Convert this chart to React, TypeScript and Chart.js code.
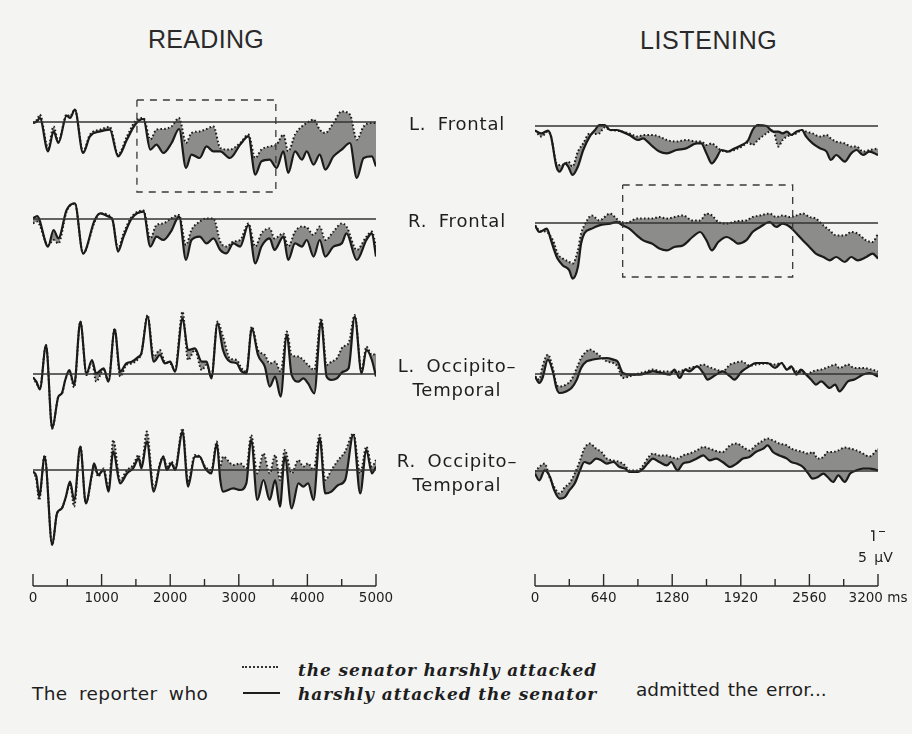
import React, { useEffect, useRef } from "react";
import { Chart, registerables } from "chart.js";
Chart.register(...registerables);

// ---------------- DATA (µV, negative plotted up) ----------------
// READING (ms 0..5000)
const readLFrontalMs = [0,60,100,220,300,370,490,540,610,730,830,980,1120,1240,1370,1490,1610,1710,1800,1900,2020,2130,2230,2310,2430,2530,2630,2730,2870,3020,3140,3240,3330,3450,3550,3650,3720,3820,3920,3990,4090,4180,4260,4380,4500,4620,4720,4820,4940,5000];
const readLFrontalSolid = [0.5,-0.3,-2,14.7,4.7,10.5,-3.2,-2,-6.2,15.5,7.2,4.7,3.8,17.2,8.8,1.3,-1.5,13.8,11.3,15.5,10.5,3.5,23,16.3,18,12.2,14.7,14.7,18,11.3,7.2,26.3,19.7,18.8,23,14.7,25.5,14.7,18.8,14.7,21.3,16.3,23.8,17.2,13.8,10.5,28,18,17.2,22.2];
const readLFrontalDotted = [0.5,-1.2,-3.7,13,2.2,9.7,-3.7,-2.8,-6.2,14.7,6.3,3.8,2.5,16.3,7.2,-0.3,-2,8.8,3.8,3.5,2.2,-2,10.5,5.5,4.7,3.5,2.2,13,13.8,10.5,6.3,18,13.8,12.2,11.3,6.3,14.7,6.3,2.2,0.5,-1.2,3.8,5.5,0.5,-5.3,-3.7,8.8,2.2,0.5,0.5];

const readRFrontalMs = [0,60,220,300,370,490,610,730,900,980,1100,1160,1240,1320,1440,1610,1710,1800,1900,2010,2130,2230,2310,2430,2530,2630,2730,2820,2920,3020,3140,3240,3330,3450,3520,3650,3720,3820,3920,3990,4090,4180,4260,4380,4500,4570,4720,4860,4940,5000];
const readRFrontalSolid = [-0.3,-1.5,13.8,5.5,9.7,-4.5,-7.8,17.2,0.5,-2.8,-1.2,0.5,16.3,8.8,-0.3,-3.7,13.8,8.8,10.5,6.3,-1.2,20.5,10.5,8.8,12.2,9.7,15.5,17.2,12.2,13.8,3,22.2,13.8,9.7,15.5,8.8,20.5,12.2,13.8,10.5,18.8,10.5,18.8,13.8,12.2,7.2,20.5,10.5,7.2,18.8];
const readRFrontalDotted = [2.2,1.3,13,10.5,12.2,-3.7,-7.8,17.2,1.3,-2.8,-2,0.5,14.7,7.2,-1.2,-4.2,9.7,3,2.2,-0.3,-2,13,5.5,1.3,-0.3,-0.3,11.3,13.8,11.3,10.5,2.2,13.8,7.2,4.7,9.7,7.2,13.8,6.3,3.8,4.2,8,3.8,10.5,6.3,2.2,3.8,15.5,8.8,6.3,13.8];

const readLOccMs = [0,50,100,190,280,370,420,470,530,600,690,780,860,920,1030,1100,1190,1270,1360,1440,1540,1580,1670,1760,1850,1920,2000,2070,2180,2260,2360,2460,2530,2600,2690,2770,2870,2970,3040,3110,3190,3280,3380,3450,3530,3610,3700,3770,3870,3940,4010,4100,4200,4280,4350,4430,4520,4600,4690,4790,4860,4940,5000];
const readLOccSolid = [1.7,3.8,7.7,-14.5,27.2,11.3,9.7,3,-2,5.5,-26.2,-0.3,-7,-0.3,-2.8,3.8,-22.3,-1.2,-5.3,-6.2,-8.7,-10.3,-28.7,-6.2,-9.5,-5.3,-6.2,-1.2,-27.8,-12,-12.8,-6.2,-6.2,2.2,-25.3,-12,-6.2,-5.3,-1.2,-0.3,-22.8,-9.5,-3.7,6.3,1.3,11.3,-19.5,0.5,3.8,2.2,4.7,9.7,-26.2,1.3,3,2.2,-1.2,-2.8,-28.7,-0.3,-12,-7,1.3];
const readLOccDotted = [1.7,4.7,7.2,-14.5,27.2,11.3,10,3,-1.2,6.7,-26.2,0.5,-6.2,3.8,-2,3.8,-22.8,1.3,-4.5,-5.3,-7.8,-10.3,-29.5,-8.7,-12,-6.2,-5.3,-2,-31.2,-7,-12,-2,-4.5,1.3,-26.2,-18.7,-7.8,-7,-2.8,-1.2,-23.7,-12,-9.5,-5.3,-6.2,-1.2,-21.2,-9.5,-8.7,-7,-4.5,-2,-27.8,-4.5,-6.2,-7.8,-13.7,-15.3,-29.5,-1.2,-13.7,-9.5,-10.3];

const readROccMs = [0,50,90,170,280,350,420,480,540,600,690,770,860,890,950,1030,1100,1170,1270,1370,1460,1540,1580,1660,1760,1850,1900,1950,2020,2070,2180,2260,2360,2430,2510,2600,2680,2730,2770,2920,3020,3110,3180,3270,3360,3450,3530,3600,3670,3770,3870,3940,4010,4090,4180,4260,4350,4450,4550,4670,4770,4860,4940,5000];
const readROccSolid = [0.8,3.3,13.3,-6.7,37.5,21.7,19.2,13.3,5.8,15,-11.7,16.7,1.7,-3.3,2.5,0,10.8,-9.2,6.7,1.7,-0.8,-5.8,-0.8,-14.2,10.8,-2.5,-6.7,0,-3.3,0,-19.2,8.3,-6.7,-6.7,-0.8,1.7,-13.3,5,10.8,9.2,10,6.7,-15,15,5,15,5,18.3,-6.7,19.2,6.7,8.3,6.7,15,-15.8,11.7,10.8,7.5,5,-17.5,11.7,-10,1.7,-1.7];
const readROccDotted = [0.8,5,15,-7.5,37.5,21.7,19.2,13.3,6.7,18.3,-11.7,16.7,2.5,-2.5,3.3,-0.8,9.2,-15,5,0,-2.5,-7.5,-1.7,-19.2,9.2,-3.3,-6.7,-1.7,-4.2,-0.8,-20.8,5.8,-7.5,-6.7,-1.7,0,-14.2,-1.7,-6.7,-2.5,-3.3,-0.8,-17.5,1.7,-8.3,1.7,-7.5,5,-10,1.7,-5,-1.7,-3.3,0,-17.5,5,0,-5,-9.2,-18.3,1.7,-11.7,-1.7,-5];

// LISTENING (ms 0..3200)
const lisLFrontalMs = [0,60,120,150,200,230,280,310,350,400,450,510,560,600,650,700,760,810,880,960,1010,1050,1100,1160,1230,1320,1410,1510,1550,1600,1650,1690,1740,1800,1860,1930,1990,2030,2080,2160,2220,2270,2310,2350,2390,2440,2490,2530,2590,2660,2720,2760,2810,2890,2950,3000,3060,3120,3200];
const lisLFrontalSolid = [2.3,3.7,2.3,5.3,20.3,22.8,18.7,20.3,24.5,20.3,12,5.3,2,-0.5,-0.5,2,2,2.8,4.5,7,6.2,7.8,10.3,12.8,13.7,12,11.2,8.7,8.7,13.7,18.7,16.2,12,12.8,11.2,9.5,7,2,-0.5,0,2.8,2.8,3.7,2.8,4.5,2.8,2,5.3,8.7,11.2,12.8,17,14.5,17.8,13.7,12,14.5,12.8,14.5];
const lisLFrontalDotted = [2.3,5.3,2.8,5.3,18.7,19.5,19,17.8,20.3,12.8,8.7,3.7,4,3.7,0.7,2,2.3,2.8,3.7,5.3,4.5,4.5,4.5,5.3,7,7.8,7,7.8,7.8,9.5,8.7,10.3,12.3,12.8,12,10.3,8.3,9.5,7,3.7,2,10.3,7,5.3,4.5,3.7,2,2.8,3.7,5.3,4.5,6.2,7.8,8.7,10.3,10.3,12.8,12,11.2];

const lisRFrontalMs = [0,40,110,150,180,210,260,320,350,400,430,460,530,600,700,760,820,880,950,1010,1090,1160,1230,1300,1380,1470,1540,1600,1650,1710,1790,1850,1890,1970,2030,2100,2190,2250,2310,2380,2440,2500,2560,2620,2690,2750,2810,2890,2950,3010,3090,3150,3200];
const lisRFrontalSolid = [1.2,4.5,2.8,8.7,13.7,17.8,21.2,23.7,27.8,22,10.3,5.3,2.8,1.2,0.3,-0.5,1.2,2.8,6.2,8.7,10.3,12.8,13.7,12,11.2,7,4.5,8.7,13.7,9.5,7,8.7,10.3,8.7,4.5,2,-0.5,2,0.3,2,5.3,8.7,12,15.3,17,18.7,17,19.5,17,18.7,17,15.3,17.8];
const lisRFrontalDotted = [1.2,3.7,4.5,7,10.3,15.3,17.8,19.5,20.3,13.7,5.3,1.2,-3.8,-1.3,-4.7,-2.2,0.3,-0.5,-2.2,-2.2,-2.2,-3,-2.2,-3,-3.8,-1.3,-1.3,-4.7,-3.8,-0.5,0.3,-0.5,-1,-1.3,-3,-3.8,-4.7,-3,-3.8,-3,-3.8,-4.7,-3,-2.2,1.2,3.7,6.2,6.2,4.5,5.3,8.7,9.5,5.3];

const lisLOccMs = [0,40,70,120,170,200,230,290,340,390,430,480,510,570,670,730,770,820,880,980,1040,1100,1180,1260,1300,1350,1400,1440,1510,1570,1610,1690,1750,1820,1860,1930,2000,2060,2170,2240,2300,2350,2390,2440,2480,2530,2590,2620,2670,2750,2800,2840,2920,2980,3060,3120,3200];
const lisLOccSolid = [1.2,4.5,2,-7.2,-0.5,7,9.5,8.7,7,2.8,-3,-6.3,-6.8,-7.5,-8,-7.2,-6.3,-0.5,0.3,0.3,-0.5,-1.3,-0.5,0.3,-2.2,2,-2.2,-1.3,-3.8,-0.5,2.8,0.3,-1.3,1.2,2.8,-1.3,-3.8,-5.5,-5.5,-3,-5.5,-2.2,-3.8,0.3,-2.2,0.3,3.7,5.3,3.7,7,5.3,8.7,3.7,2.8,0.3,-0.5,1.2];
const lisLOccDotted = [1.2,2.8,-3.8,-9.7,-2.2,5.3,6.2,5.3,2.8,-3,-8,-11.3,-12.2,-10.5,-6.3,-5.5,-3.8,2,1.2,-0.5,-1.3,-2.2,-1.3,-1.3,-0.8,-1.3,-2.2,-3,-3.8,-4.7,-3.8,-2.2,-1.3,-4.7,-5.5,-6.3,-4.2,-4.7,-5.2,-4.7,-5.5,-2.2,-3,-1.3,-0.8,0.3,-1.3,-1.8,-2.2,-3.8,-4.7,-3,-4.7,-3,-3,-2.5,-1.3];

const lisROccMs = [0,40,90,140,180,230,280,320,370,420,460,510,570,620,670,730,790,840,880,960,1010,1050,1100,1160,1230,1270,1330,1380,1440,1510,1570,1630,1690,1750,1820,1880,1940,2000,2060,2130,2170,2220,2280,2350,2390,2440,2500,2550,2590,2640,2690,2730,2780,2830,2890,2940,3000,3060,3120,3200];
const lisROccSolid = [1.3,4.7,-0.3,3,9.7,13.8,13,9.7,6.3,-0.3,-4.5,-3.7,-6.2,-5.3,-3.7,-4.5,-2,-1.2,0.5,0.5,-1.2,-3.7,-6.2,-4.5,-2.8,-4.5,-0.3,-3.7,-4.5,-6.2,-7.8,-5.3,-6.2,-4.5,-2,-3.7,-6.2,-7,-9.5,-11.2,-12.8,-9.5,-7.8,-6.2,-4.5,-3.7,-2,1.3,3.8,3,1.3,3,5.5,2.2,5.5,1.3,-0.3,-1.2,-1.2,-0.3];
const lisROccDotted = [0.5,-2,-3.7,3.8,8,11.3,8,6.3,1.3,-5.3,-11.2,-13.7,-11.2,-9.5,-6.2,-5.3,-4.5,-2.8,-0.3,-0.3,-2.8,-6.2,-8.7,-7.8,-7.8,-7,-6.2,-7.8,-8.7,-10.3,-12,-11.2,-10,-9.5,-12.8,-13.7,-12,-10.3,-12.8,-15.3,-16.2,-15.3,-13.7,-12.8,-11.2,-10.3,-9.5,-8.7,-9.5,-6.2,-7,-9.5,-9.5,-10.3,-11.7,-11.2,-10.3,-8.7,-7.3,-11.2];

// dashed analysis windows [ms], [µV]
const readBoxMs = [1515, 3540];
const readBoxUv = [-11, 35];
const lisBoxMs = [818, 2404];
const lisBoxUv = [-19, 27];

// 5 µV calibration bar
const scaleBarMs = [3135, 3160];
const scaleBarUv = [30, 35];

// axis ticks
const readingTicks = [0, 1000, 2000, 3000, 4000, 5000];
const listeningTicks = [0, 640, 1280, 1920, 2560, 3200];

// ---------------- STYLE ----------------
const BG = "#f4f4f2";
const INK = "#1b1b1b";
const FILL = "rgba(70,70,70,0.6)";
const PANEL_W = 343;
const UV_HALF = 40; // ±40 µV shown in each panel canvas
const PX_PER_UV = 2;
const PANEL_H = UV_HALF * 2 * PX_PER_UV;

type PanelProps = {
  left: number;
  baseline: number;
  maxMs: number;
  ms: number[];
  solid: number[];
  dotted: number[];
  box?: { ms: number[]; uv: number[] };
  scaleBar?: boolean;
};

function WavePanel(p: PanelProps) {
  const ref = useRef<HTMLCanvasElement>(null);
  useEffect(() => {
    const canvas = ref.current;
    if (!canvas) return;
    const datasets: any[] = [
      {
        label: "dotted",
        data: p.ms.map((t, i) => ({ x: t, y: p.dotted[i] })),
        borderColor: INK,
        borderWidth: 2,
        borderDash: [1.6, 2.2],
        pointRadius: 0,
        fill: false,
        cubicInterpolationMode: "monotone",
        order: 1,
      },
      {
        label: "solid",
        data: p.ms.map((t, i) => ({ x: t, y: p.solid[i] })),
        borderColor: INK,
        borderWidth: 2.2,
        pointRadius: 0,
        fill: "-1",
        backgroundColor: FILL,
        cubicInterpolationMode: "monotone",
        order: 2,
      },
      {
        label: "baseline",
        data: [
          { x: 0, y: 0 },
          { x: p.maxMs, y: 0 },
        ],
        borderColor: "#333",
        borderWidth: 1.3,
        pointRadius: 0,
        fill: false,
        order: 0,
      },
    ];
    if (p.box) {
      const [t0, t1] = p.box.ms;
      const [u0, u1] = p.box.uv;
      datasets.push({
        label: "window",
        data: [
          { x: t0, y: u0 },
          { x: t1, y: u0 },
          { x: t1, y: u1 },
          { x: t0, y: u1 },
          { x: t0, y: u0 },
        ],
        borderColor: "#3a3a3a",
        borderWidth: 1.3,
        borderDash: [7, 6],
        pointRadius: 0,
        fill: false,
        order: 0,
      });
    }
    if (p.scaleBar) {
      datasets.push({
        label: "5 µV",
        data: [
          { x: scaleBarMs[0], y: scaleBarUv[0] },
          { x: scaleBarMs[1], y: scaleBarUv[0] },
          { x: scaleBarMs[1], y: scaleBarUv[1] },
        ],
        borderColor: "#222",
        borderWidth: 1.4,
        pointRadius: 0,
        fill: false,
        order: 0,
      });
    }
    const chart = new Chart(canvas, {
      type: "line",
      data: { datasets },
      options: {
        responsive: false,
        animation: false,
        events: [],
        layout: { padding: 0 },
        plugins: { legend: { display: false }, tooltip: { enabled: false } },
        scales: {
          x: { type: "linear", min: 0, max: p.maxMs, display: false },
          y: { type: "linear", min: -UV_HALF, max: UV_HALF, reverse: true, display: false },
        },
      },
    } as any);
    return () => chart.destroy();
  }, []);
  return (
    <canvas
      ref={ref}
      width={PANEL_W}
      height={PANEL_H}
      style={{ position: "absolute", left: p.left, top: p.baseline - PANEL_H / 2, width: PANEL_W, height: PANEL_H }}
    />
  );
}

// Draws the time axis (line, upward ticks, labels) from the chart's own x scale.
const timeAxisPlugin = {
  id: "timeAxis",
  afterDraw(chart: any, _args: any, opts: any) {
    const sc = chart.scales.x;
    const ctx = chart.ctx;
    const y0 = chart.chartArea.bottom;
    let values: number[] = (sc.ticks || []).map((t: any) => t.value);
    if (!values.length) {
      values = [];
      opts.majors.forEach((m: number, i: number) => {
        values.push(m);
        if (i < opts.majors.length - 1) values.push((m + opts.majors[i + 1]) / 2);
      });
    }
    ctx.save();
    ctx.strokeStyle = "#2a2a2a";
    ctx.lineWidth = 1.6;
    ctx.beginPath();
    ctx.moveTo(sc.getPixelForValue(sc.min), y0);
    ctx.lineTo(sc.getPixelForValue(sc.max), y0);
    ctx.stroke();
    ctx.lineWidth = 1.4;
    ctx.fillStyle = "#1e1e1e";
    ctx.font = '13.5px "DejaVu Sans"';
    ctx.textAlign = "center";
    ctx.textBaseline = "middle";
    values.forEach((v) => {
      const x = sc.getPixelForValue(v);
      const major = opts.majors.includes(v);
      ctx.beginPath();
      ctx.moveTo(x, y0);
      ctx.lineTo(x, y0 - (major ? 12 : 7));
      ctx.stroke();
      if (major) {
        const label = v === sc.max && opts.unit ? `${v} ${opts.unit}` : String(v);
        ctx.fillText(label, x, y0 + 12);
      }
    });
    ctx.restore();
  },
};

const AX_PAD = 42;
const AX_H = 46;
const AX_BELOW = 24;

function TimeAxis({ left, top, maxMs, majors, unit }: { left: number; top: number; maxMs: number; majors: number[]; unit?: string }) {
  const ref = useRef<HTMLCanvasElement>(null);
  useEffect(() => {
    const canvas = ref.current;
    if (!canvas) return;
    const step = (majors[1] - majors[0]) / 2;
    const chart = new Chart(canvas, {
      type: "line",
      data: { datasets: [] },
      options: {
        responsive: false,
        animation: false,
        events: [],
        layout: { padding: { left: AX_PAD, right: AX_PAD, top: 0, bottom: AX_BELOW } },
        plugins: { legend: { display: false }, tooltip: { enabled: false }, timeAxis: { majors, unit } },
        scales: {
          x: { type: "linear", min: 0, max: maxMs, display: false, ticks: { stepSize: step } },
          y: { display: false, min: 0, max: 1 },
        },
      },
      plugins: [timeAxisPlugin],
    } as any);
    return () => chart.destroy();
  }, []);
  return (
    <canvas
      ref={ref}
      width={PANEL_W + 2 * AX_PAD}
      height={AX_H}
      style={{ position: "absolute", left: left - AX_PAD, top, width: PANEL_W + 2 * AX_PAD, height: AX_H }}
    />
  );
}

const READ_LEFT = 33;
const LIS_LEFT = 535;
const AXIS_TOP = 564; // axis line lands at AXIS_TOP + AX_H - AX_BELOW = 586

const labelStyle: React.CSSProperties = {
  position: "absolute",
  left: 377,
  width: 160,
  textAlign: "center",
  fontFamily: "DejaVu Sans",
  fontSize: 18,
  lineHeight: "24px",
  letterSpacing: 0.8,
  wordSpacing: 5,
  color: "#1e1e1e",
  whiteSpace: "nowrap",
};

export default function App() {
  const panels: PanelProps[] = [
    { left: READ_LEFT, baseline: 122, maxMs: 5000, ms: readLFrontalMs, solid: readLFrontalSolid, dotted: readLFrontalDotted, box: { ms: readBoxMs, uv: readBoxUv } },
    { left: READ_LEFT, baseline: 219, maxMs: 5000, ms: readRFrontalMs, solid: readRFrontalSolid, dotted: readRFrontalDotted },
    { left: READ_LEFT, baseline: 374, maxMs: 5000, ms: readLOccMs, solid: readLOccSolid, dotted: readLOccDotted },
    { left: READ_LEFT, baseline: 470, maxMs: 5000, ms: readROccMs, solid: readROccSolid, dotted: readROccDotted },
    { left: LIS_LEFT, baseline: 126, maxMs: 3200, ms: lisLFrontalMs, solid: lisLFrontalSolid, dotted: lisLFrontalDotted },
    { left: LIS_LEFT, baseline: 223, maxMs: 3200, ms: lisRFrontalMs, solid: lisRFrontalSolid, dotted: lisRFrontalDotted, box: { ms: lisBoxMs, uv: lisBoxUv } },
    { left: LIS_LEFT, baseline: 374, maxMs: 3200, ms: lisLOccMs, solid: lisLOccSolid, dotted: lisLOccDotted },
    { left: LIS_LEFT, baseline: 471, maxMs: 3200, ms: lisROccMs, solid: lisROccSolid, dotted: lisROccDotted, scaleBar: true },
  ];
  return (
    <div style={{ position: "fixed", left: 0, top: 0, width: 912, height: 734, overflow: "hidden", background: BG }}>
      <div style={{ position: "absolute", left: 148, top: 27, fontFamily: "Liberation Sans", fontSize: 25, lineHeight: "25px", color: "#2a2a2a", letterSpacing: 0.3 }}>READING</div>
      <div style={{ position: "absolute", left: 640, top: 28, fontFamily: "Liberation Sans", fontSize: 25, lineHeight: "25px", color: "#2a2a2a", letterSpacing: 0.6 }}>LISTENING</div>

      {panels.map((p, i) => (
        <WavePanel key={i} {...p} />
      ))}

      <div style={{ ...labelStyle, top: 112 }}>L. Frontal</div>
      <div style={{ ...labelStyle, top: 209 }}>R. Frontal</div>
      <div style={{ ...labelStyle, top: 354 }}>L. Occipito–<br />Temporal</div>
      <div style={{ ...labelStyle, top: 449 }}>R. Occipito–<br />Temporal</div>

      <TimeAxis left={READ_LEFT} top={AXIS_TOP} maxMs={5000} majors={readingTicks} />
      <TimeAxis left={LIS_LEFT} top={AXIS_TOP} maxMs={3200} majors={listeningTicks} unit="ms" />

      <div style={{ position: "absolute", left: 879, top: 531, width: 6, height: 0, borderTop: "1.5px solid #222" }} />
      <div style={{ position: "absolute", left: 858, top: 550, fontFamily: "DejaVu Sans", fontSize: 14, lineHeight: "14px", wordSpacing: 3, color: "#1e1e1e", whiteSpace: "nowrap" }}>5 µV</div>

      <div style={{ position: "absolute", left: 32, top: 685, fontFamily: "DejaVu Sans", fontSize: 18.5, lineHeight: "18.5px", wordSpacing: 5, letterSpacing: 0.4, color: "#1e1e1e", whiteSpace: "nowrap" }}>The reporter who</div>
      <div style={{ position: "absolute", left: 242, top: 666, width: 36, height: 0, borderTop: "2px dotted #333" }} />
      <div style={{ position: "absolute", left: 243, top: 692, width: 37, height: 0, borderTop: "2px solid #1e1e1e" }} />
      <div style={{ position: "absolute", left: 298, top: 662, fontFamily: "DejaVu Serif", fontWeight: "bold", fontStyle: "italic", fontSize: 17, lineHeight: "17px", letterSpacing: 0.9, color: "#1e1e1e", whiteSpace: "nowrap" }}>the senator harshly attacked</div>
      <div style={{ position: "absolute", left: 298, top: 686, fontFamily: "DejaVu Serif", fontWeight: "bold", fontStyle: "italic", fontSize: 17, lineHeight: "17px", letterSpacing: 0.9, color: "#1e1e1e", whiteSpace: "nowrap" }}>harshly attacked the senator</div>
      <div style={{ position: "absolute", left: 636, top: 681, fontFamily: "DejaVu Sans", fontSize: 18.5, lineHeight: "18.5px", wordSpacing: 2, color: "#1e1e1e", whiteSpace: "nowrap" }}>admitted the error...</div>
    </div>
  );
}
